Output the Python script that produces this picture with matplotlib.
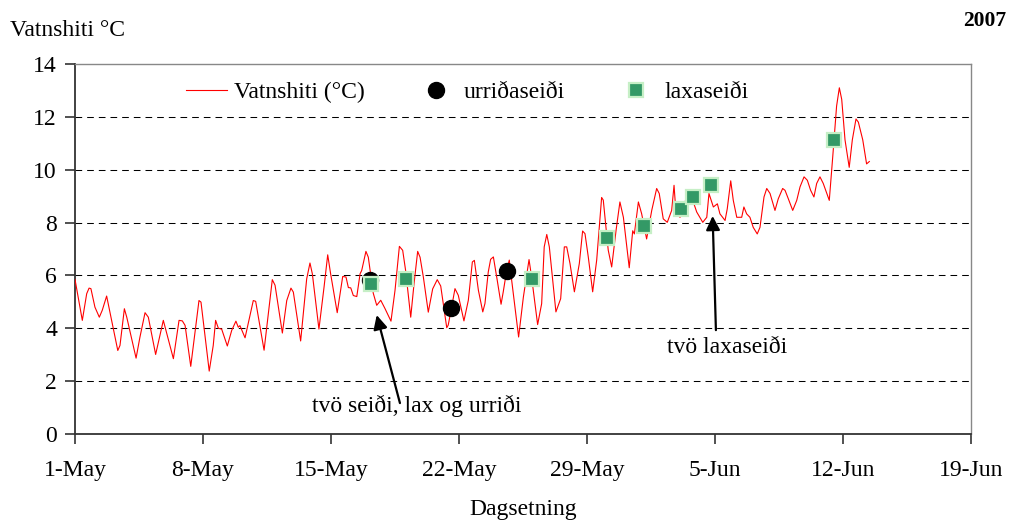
import matplotlib
matplotlib.use("Agg")
import matplotlib.pyplot as plt
import matplotlib.dates as mdates
import numpy as np
import pandas as pd

plt.rcParams['font.family'] = ['Liberation Serif', 'DejaVu Serif']
plt.rcParams['font.size'] = 17

# water temperature log, time in days after 1 May 2007
hiti_dagar = [
    0.00, 0.40, 0.64, 0.77, 0.87, 1.09, 1.33, 1.49, 1.73, 2.34, 2.46, 2.70, 2.83,
    3.34, 3.55, 3.83, 4.01, 4.41, 4.83, 5.38, 5.69, 5.87, 6.02, 6.33, 6.78, 6.89,
    7.34, 7.56, 7.69, 7.84, 8.02, 8.33, 8.57, 8.80, 8.93, 9.02, 9.30, 9.75, 9.88,
    10.34, 10.79, 10.94, 11.34, 11.58, 11.81, 11.94, 12.34, 12.67, 12.85, 12.98,
    13.34, 13.62, 13.82, 13.98, 14.34, 14.64, 14.82, 14.95, 15.08, 15.22, 15.41,
    15.59, 15.68, 15.91, 16.04, 16.31, 16.50, 16.72, 16.95, 17.28, 17.50, 17.74,
    17.92, 18.08, 18.36, 18.54, 18.74, 18.87, 19.05, 19.32, 19.56, 19.81, 20.00,
    20.33, 20.41, 20.60, 20.78, 20.96, 21.27, 21.51, 21.73, 21.84, 22.06, 22.30,
    22.42, 22.60, 22.73, 22.88, 23.09, 23.30, 23.42, 23.61, 23.75, 23.88, 24.26,
    24.52, 24.83, 24.97, 25.30, 25.52, 25.66, 25.80, 25.94, 26.30, 26.56, 26.76,
    26.89, 27.07, 27.31, 27.58, 27.76, 27.89, 28.07, 28.31, 28.53, 28.80, 28.89,
    29.16, 29.35, 29.59, 29.80, 29.99, 30.31, 30.50, 30.59, 30.81, 30.99, 31.26,
    31.54, 31.81, 31.95, 32.17, 32.39, 32.63, 32.76, 32.87, 33.09, 33.27, 33.45,
    33.72, 34.00, 34.33, 34.55, 34.67, 34.91, 35.13, 35.27, 35.55, 35.67, 35.86,
    36.00, 36.19, 36.46, 36.58, 36.73, 36.91, 37.09, 37.31, 37.46, 37.68, 37.83,
    38.01, 38.28, 38.46, 38.70, 38.83, 39.01, 39.25, 39.47, 39.65, 39.87, 40.05,
    40.23, 40.41, 40.56, 40.74, 40.92, 41.25, 41.44, 41.65, 41.80, 41.93, 42.11,
    42.34, 42.51, 42.71, 42.84, 43.08, 43.29, 43.44,
]
hiti = [
    5.85, 4.30, 5.31, 5.52, 5.50, 4.80, 4.42, 4.68, 5.22, 3.16, 3.35, 4.74, 4.42,
    2.87, 3.66, 4.59, 4.42, 3.01, 4.30, 2.85, 4.30, 4.28, 4.11, 2.56, 5.05, 4.99,
    2.38, 3.35, 4.30, 4.00, 3.97, 3.33, 3.92, 4.27, 4.04, 4.10, 3.64, 5.05, 5.02,
    3.17, 5.84, 5.63, 3.82, 5.05, 5.52, 5.37, 3.52, 5.87, 6.47, 6.06,
    3.97, 5.56, 6.78, 6.06, 4.59, 5.96, 5.94, 5.54, 5.53, 5.24, 5.20,
    6.06, 6.19, 6.91, 6.69, 5.33, 4.87, 5.06, 4.75, 4.27, 5.43, 7.10,
    6.95, 6.19, 4.42, 5.68, 6.91, 6.69, 5.94, 4.61, 5.49, 5.84, 5.60,
    4.02, 4.12, 4.81, 5.50, 5.25, 4.28, 5.06, 6.51, 6.57, 5.44, 4.62,
    4.94, 6.13, 6.61, 6.70, 5.82, 4.91, 5.38, 6.20, 6.58, 5.82, 3.67,
    5.18, 6.60, 5.94, 4.14, 4.93, 7.08, 7.55, 7.08, 4.62, 5.12, 7.08,
    7.08, 6.45, 5.38, 6.45, 7.68, 7.58, 6.70, 5.38, 6.58, 8.95, 8.85,
    6.96, 6.32, 7.71, 8.78, 8.20, 6.29, 7.69, 7.57, 8.78, 8.33, 7.38,
    8.46, 9.29, 9.10, 8.14, 8.01, 8.46, 9.41, 8.33, 8.20, 8.59, 8.97,
    8.97, 8.40, 8.01, 8.20, 9.10, 8.59, 8.71, 8.33, 8.08, 8.52, 9.58,
    8.84, 8.20, 8.20, 8.59, 8.33, 8.20, 7.82, 7.57, 7.82, 8.97, 9.29,
    9.10, 8.46, 8.90, 9.29, 9.22, 8.90, 8.46, 8.84, 9.35, 9.73, 9.60,
    9.22, 8.97, 9.48, 9.73, 9.48, 8.84, 10.50, 12.41, 13.10, 12.66, 11.13,
    10.09, 11.13, 11.92, 11.80, 11.13, 10.22, 10.31,
]

# brown trout fry seen
urridi_dagar = [16.13, 20.56, 23.60]
urridi_hiti = [5.83, 4.78, 6.17]

# salmon fry seen
lax_dagar = [16.18, 18.10, 24.99, 29.09, 31.11, 33.12, 33.77, 34.76, 41.51]
lax_hiti = [5.68, 5.86, 5.86, 7.40, 7.87, 8.50, 8.95, 9.42, 11.12]

upphaf = pd.Timestamp('2007-05-01')


def dags(d):
    return upphaf + pd.to_timedelta(np.asarray(d), unit='D')


fig = plt.figure(figsize=(10.11, 5.25), dpi=100)
ax = fig.add_axes([75 / 1011, 91 / 525, 896 / 1011, 370 / 525])

ax.plot(dags(hiti_dagar), hiti, color='#ff0000', lw=0.8, label='Vatnshiti (°C)', zorder=3)
ax.plot(dags(urridi_dagar), urridi_hiti, 'o', color='black', ms=11.5, ls='none',
        label='urriðaseiði', zorder=4)
ax.plot(dags(lax_dagar), lax_hiti, 's', color='#339966', mec='#c6efc6', mew=1.6, ms=10,
        ls='none', label='laxaseiði', zorder=5)

ax.set_ylim(0, 14)
ax.set_yticks(range(0, 15, 2))
ax.set_xlim(upphaf, upphaf + pd.Timedelta(days=49))
ax.set_xticks(dags(range(0, 50, 7)))
ax.xaxis.set_major_formatter(mdates.DateFormatter('%-d-%b'))

for y in range(2, 14, 2):
    ax.axhline(y, color='black', lw=0.75, ls=(0, (6.4, 4.8)), zorder=1)

for s in ['left', 'bottom']:
    ax.spines[s].set_color('#333333')
    ax.spines[s].set_linewidth(1.3)
for s in ['top', 'right']:
    ax.spines[s].set_color('#888888')
    ax.spines[s].set_linewidth(1.0)
ax.tick_params(direction='out', length=7, width=1.2, color='#333333', pad=6)
ax.tick_params(axis='x', pad=12)

ax.set_xlabel('Dagsetning', labelpad=13)
fig.text(10 / 1011, 1 - 30 / 525, 'Vatnshiti °C', ha='left', va='center')
fig.text(1006 / 1011, 1 - 21 / 525, '2007', ha='right', va='center',
         fontweight='bold', fontsize=15.5)

ax.legend(loc='center left', bbox_to_anchor=(0.1239, 0.923), ncol=3, frameon=False,
          borderpad=0, borderaxespad=0, handlelength=1.74, handletextpad=0.3,
          columnspacing=2.15, numpoints=1)

pil = dict(arrowstyle='-|>,head_length=0.6,head_width=0.3', color='black', lw=1.6,
           mutation_scale=14, shrinkA=0, shrinkB=0)
ax.annotate('', xy=(dags(16.50), 4.50), xytext=(dags(17.77), 1.17), arrowprops=pil, zorder=6)
ax.text(dags(18.69), 1.06, 'tvö seiði, lax og urriði', ha='center', va='center', zorder=7)
ax.annotate('', xy=(dags(34.87), 8.25), xytext=(dags(35.05), 3.93), arrowprops=pil, zorder=6)
ax.text(dags(35.66), 3.29, 'tvö laxaseiði', ha='center', va='center', zorder=7)

fig.savefig('out.png', dpi=100)
